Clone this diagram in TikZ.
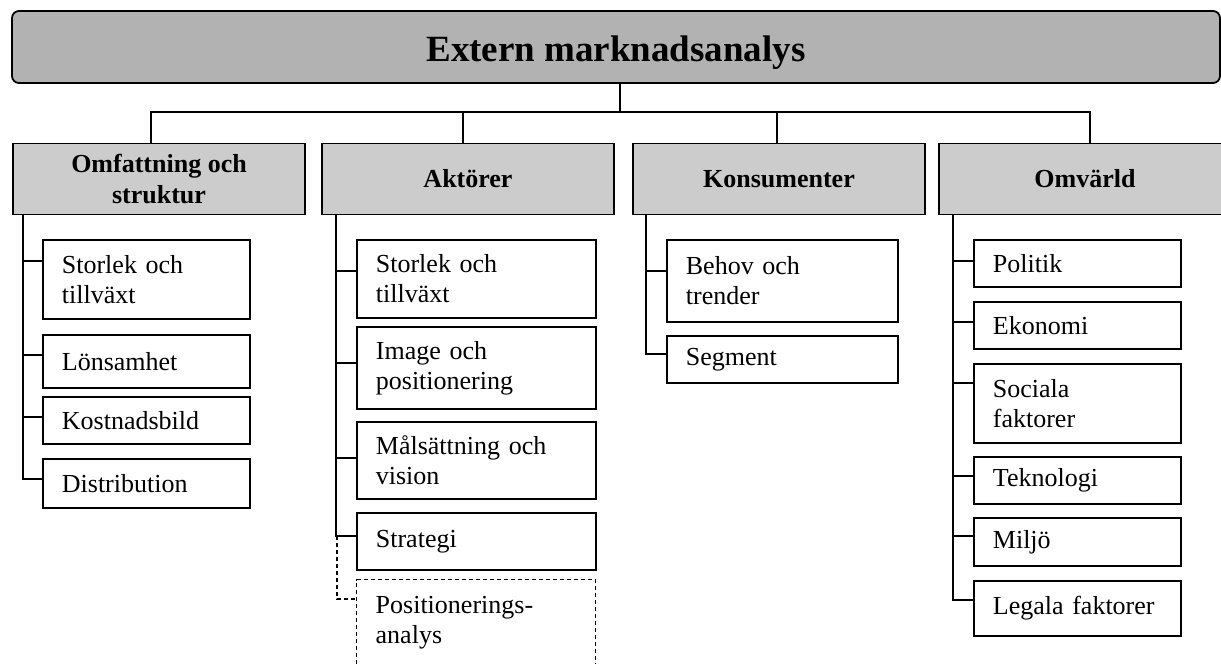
\documentclass[tikz,border=0pt]{standalone}
\usepackage{fontspec}
\setmainfont{Liberation Serif}
\definecolor{bargray}{gray}{0.70}
\definecolor{headgray}{gray}{0.80}
\newcommand{\titlefont}{\fontsize{37}{44}\selectfont\bfseries}
\newcommand{\headfont}{\fontsize{26}{31}\selectfont\bfseries}
\newcommand{\leaffont}{\fontsize{26}{30}\selectfont}
\begin{document}
\begin{tikzpicture}[x=1pt,y=-1pt,line width=1.8pt,
  titlebar/.style={draw,fill=bargray,rounded corners=7pt,font=\titlefont,
    minimum width=1208pt,minimum height=72pt,inner sep=0pt,
    text height=28pt,text depth=0pt},
  headbox/.style={draw,fill=headgray,font=\headfont,align=center,
    minimum width=292pt,minimum height=71pt,inner sep=0pt},
  leaf/.style={draw,fill=white,font=\leaffont,align=left,anchor=north west,
    inner xsep=19pt,inner ysep=0pt},
  colA/.style={leaf,text width=169pt},
  colB/.style={leaf,text width=201pt},
  colC/.style={leaf,text width=193pt},
  colD/.style={leaf,text width=169pt},
  optional/.style={dash pattern=on 4pt off 3pt,line width=1.4pt}]
\path[use as bounding box] (0,0) rectangle (1221,664);
\clip (0,0) rectangle (1221,664);

% title bar
\node[titlebar] (top) at (616,47) {Extern marknadsanalys};

% category headers
\node[headbox] (h1) at (159,179) {Omfattning och\\struktur};
\node[headbox] (h2) at (468,179) {Aktörer};
\node[headbox] (h3) at (779,179) {Konsumenter};
\node[headbox] (h4) at (1085,179) {Omvärld};

% tree from the title to the headers
\coordinate (hub) at (620,112);
\draw ([xshift=4pt]top.south) -- (hub);
\draw ([xshift=-8pt]h1.north) |- (hub) -| ([xshift=5pt]h4.north);
\draw ([xshift=-5pt]h2.north) -- ([xshift=-5pt]h2.north |- hub);
\draw ([xshift=-2pt]h3.north) -- ([xshift=-2pt]h3.north |- hub);

% Omfattning och struktur
\node[colA,minimum height=79pt] (a1) at (42,239) {Storlek och\\tillväxt};
\node[colA,minimum height=53pt] (a2) at (42,334) {Lönsamhet};
\node[colA,minimum height=47pt] (a3) at (42,396) {Kostnadsbild};
\node[colA,minimum height=49pt] (a4) at (42,458) {Distribution};
\foreach \n/\d in {a1/22,a2/21,a3/21,a4/21}
  \draw ([xshift=11pt]h1.south west) |- ([yshift=-\d pt]\n.north west);

% Aktörer
\node[colB,minimum height=78pt] (b1) at (356,239) {Storlek och\\tillväxt};
\node[colB,minimum height=82pt] (b2) at (356,326) {Image och\\positionering};
\node[colB,minimum height=77pt] (b3) at (356,421) {Målsättning och\\vision};
\node[colB,minimum height=57pt] (b4) at (356,512) {Strategi};
\node[colB,optional,inner ysep=16.5pt] (b5) at (356,579) {Positionerings-\\analys};
\foreach \n/\d in {b1/32,b2/37,b3/37,b4/24}
  \draw ([xshift=15pt]h2.south west) |- ([yshift=-\d pt]\n.north west);
\coordinate (bj) at (337,536);
\draw[optional] (bj) |- ([yshift=-20pt]b5.north west);

% Konsumenter
\node[colC,minimum height=82pt] (c1) at (666,239) {Behov och\\trender};
\node[colC,minimum height=47pt] (c2) at (666,335) {Segment};
\foreach \n/\d in {c1/32,c2/19}
  \draw ([xshift=14pt]h3.south west) |- ([yshift=-\d pt]\n.north west);

% Omvärld
\node[colD,minimum height=47pt] (d1) at (973,239) {Politik};
\node[colD,minimum height=47pt] (d2) at (973,301) {Ekonomi};
\node[colD,minimum height=79pt] (d3) at (973,363) {Sociala\\faktorer};
\node[colD,minimum height=47pt] (d4) at (973,456) {Teknologi};
\node[colD,minimum height=48pt] (d5) at (973,517) {Miljö};
\node[colD,minimum height=55pt] (d6) at (973,580) {Legala faktorer};
\foreach \n/\d in {d1/22,d2/21,d3/20,d4/20,d5/19,d6/20}
  \draw ([xshift=15pt]h4.south west) |- ([yshift=-\d pt]\n.north west);
\end{tikzpicture}
\end{document}
